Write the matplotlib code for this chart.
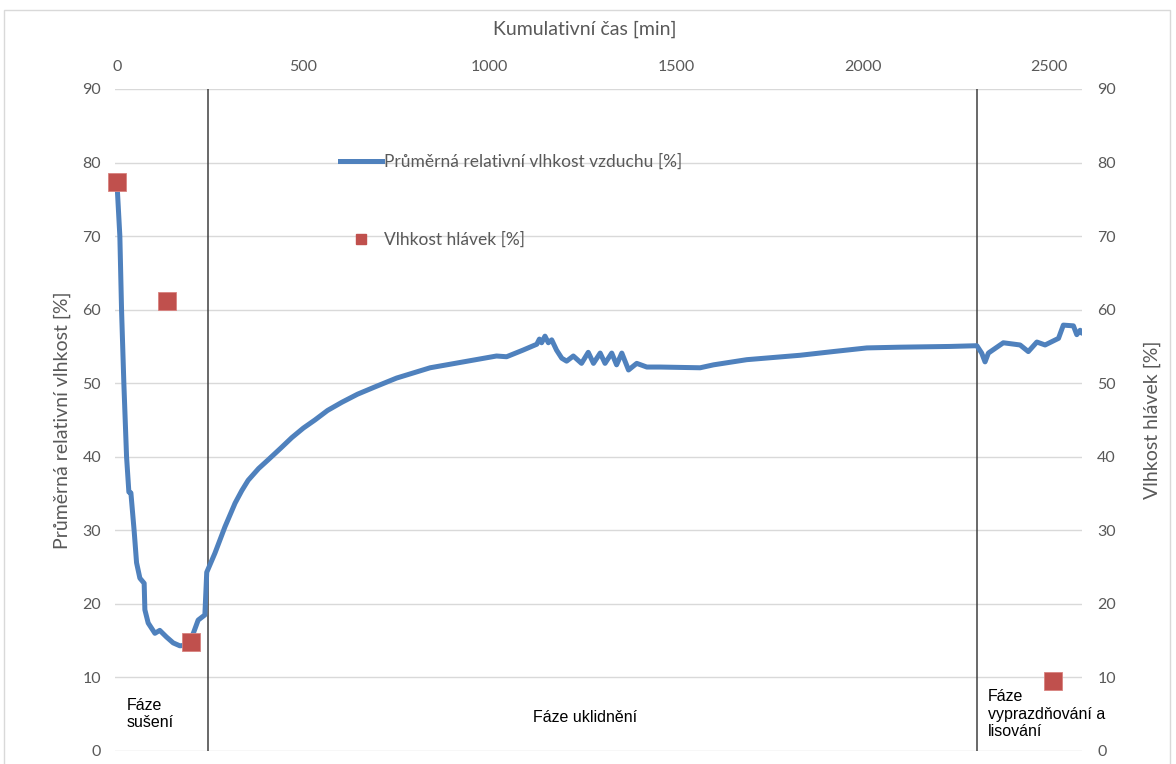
import matplotlib
matplotlib.use("Agg")
import matplotlib.pyplot as plt
from matplotlib.patches import Rectangle
from matplotlib.lines import Line2D

# Average relative air humidity over cumulative time
time_min = [0, 8, 12.6, 18.8, 26, 32.2, 37.6, 46.4, 52.8, 61.7, 73.2, 75.1, 84,
            102, 115, 133, 151, 169, 188, 205, 218, 236, 241, 263, 290, 317,
            335, 352, 380, 406, 440, 469, 500, 531, 565, 603, 645, 692, 750,
            840, 929, 1018, 1045, 1089, 1126, 1133, 1139, 1148, 1157, 1166,
            1179, 1193, 1206, 1224, 1246, 1264, 1278, 1296, 1309, 1327, 1340,
            1354, 1372, 1394, 1421, 1457, 1564, 1600, 1689, 1832, 1920, 2011,
            2100, 2234, 2306, 2319, 2328, 2337, 2377, 2422, 2444, 2467, 2489,
            2525, 2538, 2565, 2574, 2583, 2588]
air_rh = [77.5, 70.0, 59.9, 49.9, 40.0, 35.2, 35.1, 29.9, 25.6, 23.5, 22.8,
          19.2, 17.4, 16.0, 16.4, 15.5, 14.7, 14.3, 14.4, 16.0, 17.8, 18.5,
          24.3, 26.9, 30.5, 33.7, 35.4, 36.8, 38.4, 39.6, 41.2, 42.6, 43.9,
          45.0, 46.3, 47.4, 48.5, 49.5, 50.7, 52.1, 52.9, 53.7, 53.6, 54.5,
          55.3, 56.0, 55.5, 56.4, 55.5, 55.9, 54.5, 53.4, 53.0, 53.7, 52.7,
          54.2, 52.7, 54.1, 52.7, 54.1, 52.5, 54.1, 51.8, 52.7, 52.2, 52.2,
          52.1, 52.5, 53.2, 53.8, 54.3, 54.8, 54.9, 55.0, 55.1, 54.1, 52.9,
          54.1, 55.5, 55.2, 54.3, 55.6, 55.2, 56.1, 57.9, 57.8, 56.6, 57.2,
          56.8]

# Moisture of the cheese heads
head_time = [0, 134, 199, 2511]
head_moisture = [77.4, 61.2, 14.8, 9.5]

# Boundaries between process phases
phase_bounds = [244, 2307]
phase_labels = ["Fáze\nsušení", "Fáze uklidnění", "Fáze\nvyprazdňování a\nlisování"]

y_ticks = list(range(0, 91, 10))
x_ticks = [0, 500, 1000, 1500, 2000, 2500]

BLUE = "#4F81BD"
RED = "#C0504D"
GREY = "#595959"
GRID = "#d9d9d9"

plt.rcParams["font.family"] = ["Lato", "DejaVu Sans"]

fig = plt.figure(figsize=(11.76, 7.64), dpi=100)
ax = fig.add_axes([115 / 1176, 1 - 751 / 764, (1082 - 115) / 1176, (751 - 89) / 764])
ax2 = ax.twinx()

ax.set_xlim(-5, 2588)
ax.set_ylim(0, 90)
ax2.set_ylim(0, 90)

ax.set_yticks(y_ticks)
ax2.set_yticks(y_ticks)
ax.set_xticks(x_ticks)
ax.xaxis.tick_top()

ax.yaxis.grid(True, color=GRID, lw=1.0)
ax.set_axisbelow(True)

for a in (ax, ax2):
    for s in a.spines.values():
        s.set_visible(False)

ax.tick_params(axis="y", length=0, pad=10, labelsize=11.5, labelcolor=GREY)
ax2.tick_params(axis="y", length=0, pad=11, labelsize=11.5, labelcolor=GREY)
ax.tick_params(axis="x", length=0, pad=11, labelsize=11.5, labelcolor=GREY,
               top=True, labeltop=True, bottom=False, labelbottom=False)

for xb in phase_bounds:
    ax.axvline(xb, color="#404040", lw=1.1, zorder=1)

ax.plot(time_min, air_rh, color=BLUE, lw=3.6, solid_joinstyle="round",
        solid_capstyle="round", zorder=3)
ax2.plot(head_time, head_moisture, linestyle="none", marker="s", markersize=13,
         color=RED, markeredgecolor="#d9827f", markeredgewidth=0.6, zorder=4,
         clip_on=False)

ax.set_xlabel("Kumulativní čas [min]", fontsize=14, color=GREY)
ax.xaxis.set_label_position("top")
ax.xaxis.set_label_coords(0.486, 1.0906)
ax.xaxis.label.set_va("center")

ax.set_ylabel("Průměrná relativní vlhkost [%]", fontsize=14, color=GREY)
ax.yaxis.set_label_coords(-0.0455, 0.5)
ax2.set_ylabel("Vlhkost hlávek [%]", fontsize=14, color=GREY)
ax2.yaxis.set_label_coords(1.064, 0.5)

handles = [
    Line2D([], [], color=BLUE, lw=3.6, label="Průměrná relativní vlhkost vzduchu [%]"),
    Line2D([], [], color=RED, marker="s", linestyle="none", markersize=7,
           label="Vlhkost hlávek [%]"),
]
leg = ax2.legend(handles=handles, loc="upper left", bbox_to_anchor=(0.2327, 0.902),
                 frameon=False, fontsize=12.5, borderpad=0, borderaxespad=0,
                 handlelength=2.4, handletextpad=0.15, labelspacing=3.55)
for t in leg.get_texts():
    t.set_color(GREY)

txt_font = dict(family=["Liberation Sans", "DejaVu Sans"], fontsize=11.5, color="black")
ax.text(27, 7.2, phase_labels[0], va="top", ha="left", linespacing=1.2, **txt_font)
ax.text(1255, 4.5, phase_labels[1], va="center", ha="center", **txt_font)
ax.text(2336, 8.4, phase_labels[2], va="top", ha="left", linespacing=1.2, **txt_font)

fig.patches.append(Rectangle((4 / 1176, -0.01), (1170 - 4) / 1176, 1 - 10 / 764 + 0.01,
                             transform=fig.transFigure, fill=False,
                             edgecolor=GRID, lw=1.0))

fig.savefig("out.png", dpi=100)
